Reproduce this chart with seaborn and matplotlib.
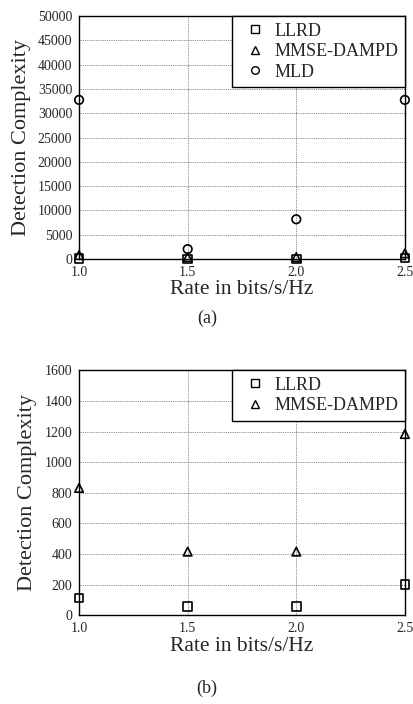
import pandas as pd
import matplotlib
matplotlib.use("Agg")
import matplotlib.pyplot as plt
import seaborn as sns

# data
rates = [1.0, 1.5, 2.0, 2.5]
llrd = [112, 56, 56, 200]
mmse_dampd = [832, 416, 416, 1184]
mld = [32768, 2048, 8192, 32768]

yticks_a = list(range(0, 50001, 5000))
yticks_b = list(range(0, 1601, 200))
xticks = [1.0, 1.5, 2.0, 2.5]

sns.set_style("white")
plt.rcParams["font.family"] = ["Liberation Serif", "DejaVu Serif"]

markers = {"LLRD": "s", "MMSE-DAMPD": "^", "MLD": "o"}


def make_df(series):
    rows = []
    for name, vals in series:
        for r, v in zip(rates, vals):
            rows.append({"rate": r, "value": v, "scheme": name})
    return pd.DataFrame(rows)


def draw(ax, df, ylim, yticks):
    names = list(df["scheme"].unique())
    sns.scatterplot(data=df, x="rate", y="value", style="scheme", hue="scheme",
                    palette={n: "none" for n in names},
                    markers={n: markers[n] for n in names},
                    s=38, edgecolor="black", linewidth=1.2, ax=ax, clip_on=False,
                    zorder=5, legend=False)
    ax.set_xlim(1.0, 2.5)
    ax.set_ylim(*ylim)
    ax.set_xticks(xticks)
    ax.set_xticklabels(["%.1f" % x for x in xticks])
    ax.set_yticks(yticks)
    ax.grid(True, linestyle=(0, (1, 1.2)), color="#666666", linewidth=0.6)
    for sp in ax.spines.values():
        sp.set_color("black")
        sp.set_linewidth(1.0)
    ax.tick_params(labelsize=10, length=0)
    ax.tick_params(axis="y", pad=5)
    ax.tick_params(axis="x", pad=5)
    ax.set_xlabel("Rate in bits/s/Hz", fontsize=15.5, labelpad=1)
    ax.set_ylabel("Detection Complexity", fontsize=16, labelpad=5)
    handles = [plt.Line2D([], [], linestyle="none", marker=markers[n],
                          markerfacecolor="none", markeredgecolor="black",
                          markersize=5.5, markeredgewidth=1.0) for n in names]
    leg = ax.legend(handles, names, loc="upper right", borderaxespad=0,
                    fancybox=False, framealpha=1, edgecolor="black",
                    fontsize=13, handletextpad=0.2, borderpad=0.35,
                    labelspacing=0.2, handlelength=1.8)
    leg.get_frame().set_linewidth(1.0)
    leg.set_zorder(10)


fig = plt.figure(figsize=(4.14, 7.04), dpi=100)
ax1 = fig.add_axes([0.191, 0.632, 0.787, 0.345])
ax2 = fig.add_axes([0.191, 0.126, 0.787, 0.348])

draw(ax1, make_df([("LLRD", llrd), ("MMSE-DAMPD", mmse_dampd), ("MLD", mld)]),
     (0, 50000), yticks_a)
draw(ax2, make_df([("LLRD", llrd), ("MMSE-DAMPD", mmse_dampd)]),
     (0, 1600), yticks_b)

fig.text(0.5, 0.548, "(a)", ha="center", va="center", fontsize=13)
fig.text(0.5, 0.022, "(b)", ha="center", va="center", fontsize=13)

fig.savefig("out.png", dpi=100)
